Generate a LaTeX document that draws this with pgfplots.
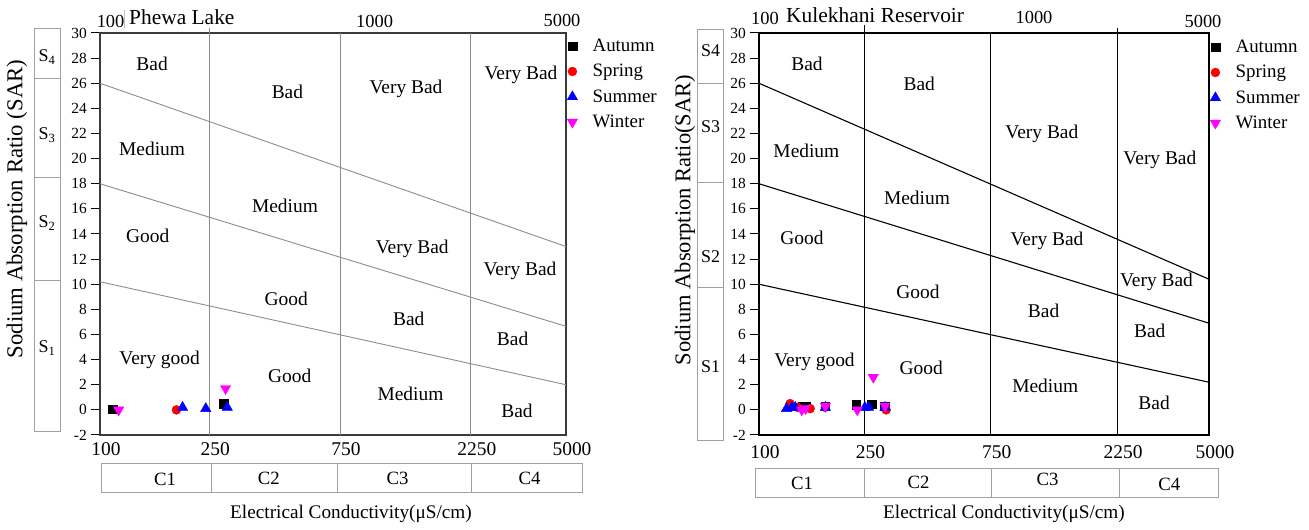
\documentclass[border=0pt]{standalone}
\usepackage{pgfplots}
\pgfplotsset{compat=1.18}
\usepackage{fontspec}
\setmainfont{Liberation Serif}
\newcommand{\fs}[1]{\fontsize{#1}{#1}\selectfont}
\definecolor{frameg}{HTML}{3A3A3A}
\definecolor{lineg}{HTML}{8C8C8C}
\definecolor{boxg}{HTML}{A0A0A0}
\definecolor{cA}{RGB}{0,0,0}
\definecolor{cB}{RGB}{255,0,0}
\definecolor{cC}{RGB}{0,0,255}
\definecolor{cD}{RGB}{255,0,255}
\begin{document}
\begin{tikzpicture}
\useasboundingbox (0,0) rectangle (1309bp,530bp);
% ---------------- Left panel: Phewa Lake ----------------
\begin{axis}[anchor=south west, at={(100bp,95bp)}, width=466bp, height=402bp, scale only axis,
    xmode=log, xmin=100, xmax=5000, ymin=-2, ymax=30,
    xtick={100,250,750,2250,5000}, xticklabels={100,250,750,2250,5000},
    xminorticks=false,
    ytick={-2,0,...,30},
    ytick pos=left, tick align=outside,
    xtick style={draw=none},
    ytick style={black, line width=1bp},
    major tick length=9bp,
    /pgf/number format/assume math mode=true,
    yticklabel style={font=\fs{15.5}, inner sep=4bp},
    xticklabel style={font=\fs{19.5}, xshift=6bp, yshift=5bp},
    clip=false,
    legend cell align=left,
    legend style={at={(1,1)}, anchor=north west, draw=none, fill=none,
      font=\fs{19}, inner sep=0pt, row sep=7.3bp, column sep=13bp, xshift=1bp, yshift=-4bp},
  axis line style={frameg, line width=1.3bp}]
\addplot[lineg, line width=0.9bp, forget plot] coordinates {(250,-2) (250,30.4)};
\addplot[lineg, line width=0.9bp, forget plot] coordinates {(750,-2) (750,30)};
\addplot[lineg, line width=0.9bp, forget plot] coordinates {(2250,-2) (2250,30)};
\addplot[lineg, line width=0.9bp, forget plot] coordinates {(100,26) (5000,13)};
\addplot[lineg, line width=0.9bp, forget plot] coordinates {(100,18) (5000,6.65)};
\addplot[lineg, line width=0.9bp, forget plot] coordinates {(100,10.2) (5000,2.0)};
\addplot[only marks, mark=square*, mark size=4.3bp, cA] coordinates {(111,0.05) (283,0.5)};
\addlegendentry{Autumn}
\addplot[only marks, mark=*, mark size=4.5bp, cB] coordinates {(190,0.0)};
\addlegendentry{Spring}
\addplot[only marks, mark=triangle*, mark size=6bp, cC] coordinates {(200,0.2) (243,0.1) (291,0.2)};
\addlegendentry{Summer}
\addplot[only marks, mark=triangle*, mark options={rotate=180}, mark size=6bp, cD] coordinates {(117,0.0) (287,1.7)};
\addlegendentry{Winter}
\end{axis}
% ---------------- Right panel: Kulekhani Reservoir ----------------
\begin{axis}[anchor=south west, at={(759bp,95bp)}, width=450bp, height=402bp, scale only axis,
    xmode=log, xmin=100, xmax=5000, ymin=-2, ymax=30,
    xtick={100,250,750,2250,5000}, xticklabels={100,250,750,2250,5000},
    xminorticks=false,
    ytick={-2,0,...,30},
    ytick pos=left, tick align=outside,
    xtick style={draw=none},
    ytick style={black, line width=1bp},
    major tick length=9bp,
    /pgf/number format/assume math mode=true,
    yticklabel style={font=\fs{15.5}, inner sep=4bp},
    xticklabel style={font=\fs{19.5}, xshift=6bp, yshift=2bp},
    clip=false,
    legend cell align=left,
    legend style={at={(1,1)}, anchor=north west, draw=none, fill=none,
      font=\fs{19}, inner sep=0pt, row sep=7.3bp, column sep=13bp, xshift=1bp, yshift=-5bp},
  axis line style={black, line width=1.3bp}]
\addplot[black, line width=1.1bp, forget plot] coordinates {(250,-2) (250,30.6)};
\addplot[black, line width=1.1bp, forget plot] coordinates {(750,-2) (750,30)};
\addplot[black, line width=1.1bp, forget plot] coordinates {(2250,-2) (2250,30.4)};
\addplot[black, line width=1.1bp, forget plot] coordinates {(100,26) (5000,10.4)};
\addplot[black, line width=1.1bp, forget plot] coordinates {(100,18) (5000,6.9)};
\addplot[black, line width=1.1bp, forget plot] coordinates {(100,10) (5000,2.2)};
\addplot[only marks, mark=square*, mark size=4.3bp, cA] coordinates {(146,0.3) (150,0.3) (178,0.3) (233,0.4) (266,0.45) (298,0.3)};
\addlegendentry{Autumn}
\addplot[only marks, mark=*, mark size=4.5bp, cB] coordinates {(131,0.5) (140,0.2) (156,0.1) (178,0.2) (302,0.0)};
\addlegendentry{Spring}
\addplot[only marks, mark=triangle*, mark size=6bp, cC] coordinates {(127,0.1) (133,0.2) (137,0.2) (178,0.2) (251,0.2) (259,0.2) (299,0.2)};
\addlegendentry{Summer}
\addplot[only marks, mark=triangle*, mark options={rotate=180}, mark size=6bp, cD] coordinates {(145,0.0) (150,0.1) (178,0.3) (235,0.0) (270,2.6) (299,0.3)};
\addlegendentry{Winter}
\end{axis}
% ---------------- Annotations in pixel coordinates ----------------
\begin{scope}[x=1bp, y=-1bp, yshift=530bp]
\node[anchor=west, font=\fs{21.5}, inner sep=0pt] at (129,17) {Phewa Lake};
\draw[gray!50, line width=0.6bp] (124.3,10) -- (124.3,28);
\node[anchor=west, font=\fs{21.5}, inner sep=0pt] at (786,15) {Kulekhani Reservoir};
\begin{scope}[every node/.style={font=\fs{18.5}, inner sep=0pt}]
\node at (110.6,21) {100};
\node at (374.6,21) {1000};
\node at (562,20) {5000};
\node at (765,18) {100};
\node at (1034,17) {1000};
\node at (1203,21) {5000};
\end{scope}
\node[font=\fs{19.3}] at (351,514) {Electrical Conductivity(μS/cm)};
\node[font=\fs{19.3}] at (1004,514) {Electrical Conductivity(μS/cm)};
\node[font=\fs{22.8}, rotate=90] at (17,209) {Sodium Absorption Ratio (SAR)};
\node[font=\fs{22.6}, rotate=90] at (685,220) {Sodium Absorption Ratio(SAR)};
\draw[boxg, line width=0.9bp] (34.8,28.1) rectangle (60.9,431.7);
\draw[boxg, line width=0.9bp] (34.8,78.8) -- (60.9,78.8) (34.8,177.5) -- (60.9,177.5) (34.8,280.6) -- (60.9,280.6);
\begin{scope}[every node/.style={font=\fs{18}}]
\node at (47,57) {S\textsubscript{4}};
\node at (47,135) {S\textsubscript{3}};
\node at (47,223) {S\textsubscript{2}};
\node at (47,348) {S\textsubscript{1}};
\end{scope}
\draw[boxg, line width=0.9bp] (697.9,29.8) rectangle (723.2,440.2);
\draw[boxg, line width=0.9bp] (697.9,83.5) -- (723.2,83.5) (697.9,182.9) -- (723.2,182.9) (697.9,287.7) -- (723.2,287.7);
\begin{scope}[every node/.style={font=\fs{18}}]
\node at (710.7,51) {S4};
\node at (710.7,127) {S3};
\node at (710.7,257) {S2};
\node at (710.7,367) {S1};
\end{scope}
\draw[boxg, line width=0.9bp] (101.4,463.8) rectangle (582.9,492.9);
\draw[boxg, line width=0.9bp] (211,463.8) -- (211,492.9) (337,463.8) -- (337,492.9) (471,463.8) -- (471,492.9);
\draw[boxg, line width=0.9bp] (755.3,468.2) rectangle (1218.3,497.6);
\draw[boxg, line width=0.9bp] (864,468.2) -- (864,497.6) (991.2,468.2) -- (991.2,497.6) (1119,468.2) -- (1119,497.6);
\begin{scope}[every node/.style={font=\fs{18.8}}]
\node at (165,479) {C1};
\node at (268.8,478) {C2};
\node at (397.6,478) {C3};
\node at (529.5,478) {C4};
\node at (802,483) {C1};
\node at (918.6,482) {C2};
\node at (1047.6,479.5) {C3};
\node at (1169.3,484) {C4};
\end{scope}
\begin{scope}[every node/.style={font=\fs{19.5}}]
\node at (152.1,63.6) {Bad};
\node at (287.4,92) {Bad};
\node at (406,88.6) {Very Bad};
\node at (521,75) {Very Bad};
\node at (152.1,148.7) {Medium};
\node at (285,206.2) {Medium};
\node at (412.2,248.5) {Very Bad};
\node at (520,270.5) {Very Bad};
\node at (147.7,236) {Good};
\node at (286.3,299.2) {Good};
\node at (408.8,318.8) {Bad};
\node at (512.6,339) {Bad};
\node at (159.6,360) {Very good};
\node at (289.7,376) {Good};
\node at (410.5,393.8) {Medium};
\node at (517,410.8) {Bad};
\node at (807,64.2) {Bad};
\node at (919.3,83.8) {Bad};
\node at (1041.9,133.5) {Very Bad};
\node at (1159.9,160) {Very Bad};
\node at (806.4,150.4) {Medium};
\node at (917,197.8) {Medium};
\node at (1047,240.7) {Very Bad};
\node at (1156.5,281.6) {Very Bad};
\node at (802,237.7) {Good};
\node at (918,291.4) {Good};
\node at (1043.6,311) {Bad};
\node at (1149.7,331.3) {Bad};
\node at (814.5,361.7) {Very good};
\node at (921.3,367.8) {Good};
\node at (1045.2,385.4) {Medium};
\node at (1154.1,403) {Bad};
\end{scope}
\end{scope}
\end{tikzpicture}
\end{document}
